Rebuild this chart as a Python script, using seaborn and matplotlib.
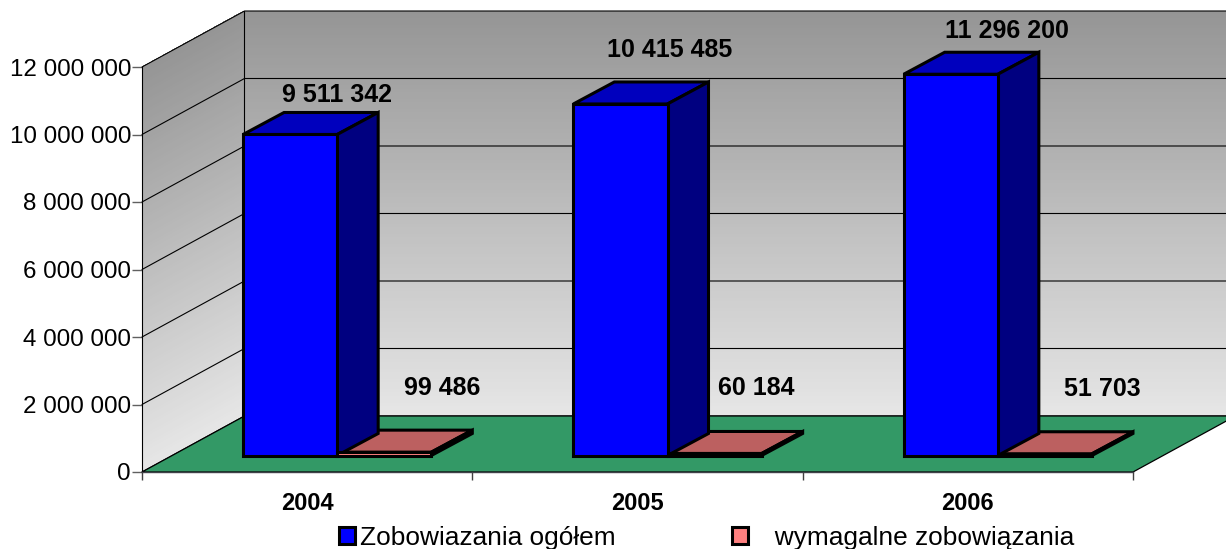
import numpy as np
import pandas as pd
import seaborn as sns
import matplotlib
matplotlib.use("Agg")
import matplotlib.pyplot as plt
from matplotlib.patches import Polygon

years = ['2004', '2005', '2006']
series_names = ['Zobowiazania ogółem', '   wymagalne zobowiązania']
total_values = [9511342, 10415485, 11296200]
due_values = [99486, 60184, 51703]
value_labels = ['9 511 342', '10 415 485', '11 296 200', '99 486', '60 184', '51 703']
y_ticks = [0, 2000000, 4000000, 6000000, 8000000, 10000000, 12000000]
y_tick_labels = ['0', '2 000 000', '4 000 000', '6 000 000', '8 000 000', '10 000 000', '12 000 000']

df = pd.DataFrame({
    'year': years * 2,
    'series': [series_names[0]] * 3 + [series_names[1]] * 3,
    'value': total_values + due_values,
})

W, H = 1226, 549
sns.set_theme(style='white')
plt.rcParams['font.family'] = ['Liberation Sans', 'DejaVu Sans']
plt.rcParams['text.color'] = 'black'

fig = plt.figure(figsize=(W / 100, H / 100), dpi=100)

# pixel box of the front plane, in picture coordinates
left, right, y_base, y_top = 142, 1133, 472, 67
box = [left / W, (H - y_base) / H, (right - left) / W, (y_base - y_top) / H]
ax = fig.add_axes(box, zorder=1)
ax.set_xlim(-0.5, 2.5)
ax.set_ylim(0, 12000000)
px_x = 3 / (right - left)
px_y = 12000000 / (y_base - y_top)

# depth of the whole chart box
room_x, room_y = 102.5 * px_x, 56 * px_y

# walls with the grey fade
shade = np.linspace(0.90, 0.585, 120).reshape(-1, 1)
v = np.linspace(0, 12000000, 121)
back_x = np.tile([-0.5 + room_x, 2.5 + room_x], (121, 1))
back_y = np.column_stack([v + room_y, v + room_y])
ax.pcolormesh(back_x, back_y, shade, cmap='gray', vmin=0, vmax=1, clip_on=False, zorder=0)
side_x = np.tile([-0.5, -0.5 + room_x], (121, 1))
side_y = np.column_stack([v, v + room_y])
ax.pcolormesh(side_x, side_y, shade, cmap='gray', vmin=0, vmax=1, clip_on=False, zorder=0)

# grid lines on both walls
for tick in y_ticks:
    ax.plot([-0.5, -0.5 + room_x, 2.5 + room_x], [tick, tick + room_y, tick + room_y],
            color='black', lw=0.8, clip_on=False, zorder=1)
ax.plot([-0.5 + room_x] * 2, [room_y, 12000000 + room_y], color='black', lw=0.8, clip_on=False, zorder=1)

# floor
ax.add_patch(Polygon([(-0.5, 0), (2.5, 0), (2.5 + room_x, room_y), (-0.5 + room_x, room_y)],
                     facecolor='#339966', edgecolor='black', lw=0.9, clip_on=False, zorder=2))

ax.set_xticks([0, 1, 2])
ax.set_xticklabels(years, fontsize=17, fontweight='bold', color='black')
ax.set_xticks([-0.5, 0.5, 1.5, 2.5], minor=True)
ax.tick_params(axis='x', which='major', length=0, pad=14.5)
ax.tick_params(axis='x', which='minor', length=6, width=1, color='#404040', bottom=True)
ax.set_yticks(y_ticks)
ax.set_yticklabels(y_tick_labels, fontsize=17.4, color='black')
ax.tick_params(axis='y', length=7, width=1, color='#606060', pad=1, left=True)
for name in ['top', 'right']:
    ax.spines[name].set_visible(False)
ax.spines['left'].set_color('black')
ax.spines['bottom'].set_color('#404048')
ax.spines['left'].set_linewidth(0.8)
ax.spines['bottom'].set_linewidth(1.0)
ax.set_facecolor('none')

# bars stand a bit behind the front plane, so they get their own shifted axes
shift_x, shift_y = 30, 16.5
bar_ax = fig.add_axes([(left + shift_x) / W, (H - y_base + shift_y) / H, (right - left) / W, (y_base - y_top) / H],
                      zorder=2)
sns.barplot(data=df, x='year', y='value', hue='series', order=years, hue_order=series_names,
            palette=['#0000FF', '#FF8080'], saturation=1, width=0.57, edgecolor='black', linewidth=2.2,
            ax=bar_ax, zorder=5)
bar_ax.set_xlim(-0.5, 2.5)
bar_ax.set_ylim(0, 12000000)

deep_x, deep_y = 41 * px_x, 22 * px_y
top_colors = ['#0000BE', '#BC6060']
side_colors = ['#000080', '#804040']
bars = sorted(bar_ax.patches, key=lambda b: (b.get_facecolor()[0], b.get_x()))
bars = [b for b in bars if b.get_width() > 0]
offsets = [(0, 39.5), (2, 54), (9, 43), (11, 64), (-5, 65), (10, 65)]

for i, bar in enumerate(bars):
    kind = i // 3
    x0, x1, h = bar.get_x(), bar.get_x() + bar.get_width(), bar.get_height()
    bar.set_clip_on(False)
    z = 3 if kind == 1 else 4
    bar_ax.add_patch(Polygon([(x0, h), (x1, h), (x1 + deep_x, h + deep_y), (x0 + deep_x, h + deep_y)],
                             facecolor=top_colors[kind], edgecolor='black', lw=2.2, joinstyle='miter',
                             clip_on=False, zorder=z))
    bar_ax.add_patch(Polygon([(x1, 0), (x1 + deep_x, deep_y), (x1 + deep_x, h + deep_y), (x1, h)],
                             facecolor=side_colors[kind], edgecolor='black', lw=2.2, joinstyle='miter',
                             clip_on=False, zorder=z))
    bar_ax.annotate(value_labels[i], xy=(x1, h), xytext=offsets[i], textcoords='offset pixels',
                    ha='center', va='center', fontsize=18, fontweight='bold', color='black',
                    annotation_clip=False, zorder=8)

sns.move_legend(bar_ax, 'lower left', bbox_to_anchor=(339 / W, -0.002), bbox_transform=fig.transFigure,
                ncols=2, frameon=False, title=None, fontsize=18.9, handlelength=0.62, handleheight=0.62,
                handletextpad=0.18, columnspacing=4.42, borderpad=0, borderaxespad=0, labelcolor='black')
bar_ax.set_axis_off()

plt.savefig('out.png', dpi=100)
